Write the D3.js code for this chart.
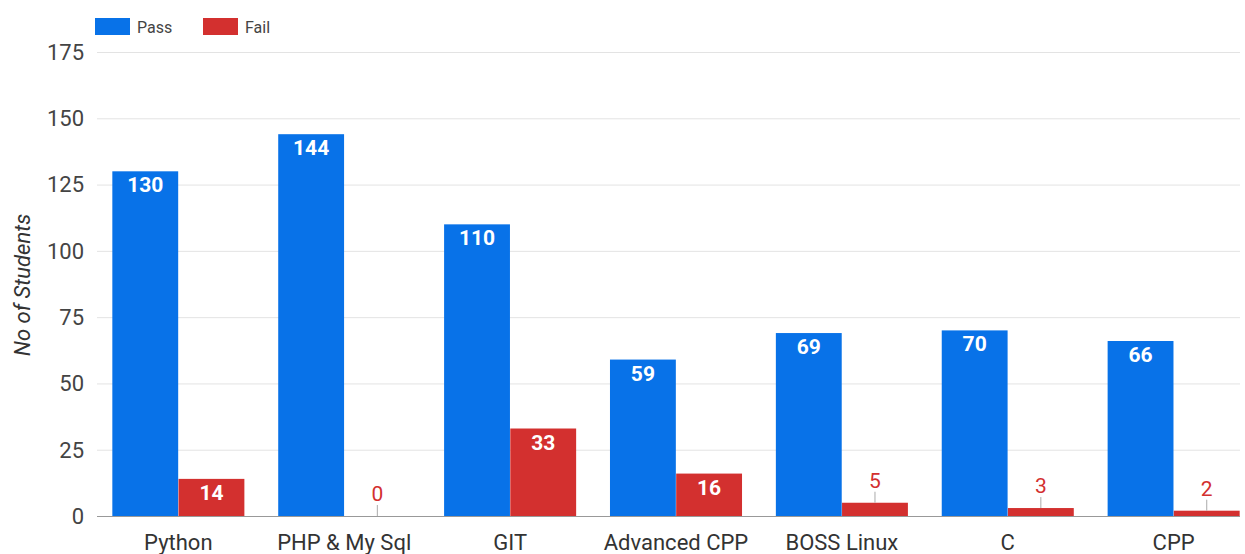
<!DOCTYPE html>
<html>
<head>
<meta charset="utf-8">
<script src="https://d3js.org/d3.v7.min.js"></script>
<style>
    body { margin: 0; background: #fff; font-family: Roboto, "Noto Sans", Arial, sans-serif; }
    .grid line { stroke: #e3e3e3; stroke-width: 1px; }
    .tick-label { font-size: 22px; fill: #444; }
    .cat-label { font-size: 22px; fill: #333; }
</style>
</head>
<body>
<script>
var width = 1245,
    height = 554;

// chart data
var categories = ["Python", "PHP & My Sql", "GIT", "Advanced CPP", "BOSS Linux", "C", "CPP"];
var passValues = [130, 144, 110, 59, 69, 70, 66];
var failValues = [14, 0, 33, 16, 5, 3, 2];
var seriesNames = ["Pass", "Fail"];
var yTicks = [0, 25, 50, 75, 100, 125, 150, 175];

var colors = { Pass: "#0872e8", Fail: "#d3302f" };

var svg = d3.select("body").append("svg")
    .attr("width", width)
    .attr("height", height);

var plotLeft = 97, plotRight = 1240, plotTop = 52, plotBottom = 516;

var y = d3.scaleLinear().domain([0, 175]).range([plotBottom, plotTop]);

var x0 = d3.scaleBand()
    .domain(categories)
    .range([112, 1240])
    .paddingInner(0.2)
    .paddingOuter(0);

var x1 = d3.scaleBand()
    .domain(seriesNames)
    .range([0, x0.bandwidth()])
    .padding(0.005);

// gridlines
var grid = svg.append("g").attr("class", "grid");
grid.selectAll("line")
    .data(yTicks.filter(function(d) { return d > 0; }))
    .enter().append("line")
    .attr("x1", plotLeft).attr("x2", plotRight)
    .attr("y1", function(d) { return y(d) + 0.5; })
    .attr("y2", function(d) { return y(d) + 0.5; });

// y tick labels
svg.selectAll("text.ytick")
    .data(yTicks)
    .enter().append("text")
    .attr("class", "tick-label")
    .attr("x", 84)
    .attr("y", function(d) { return y(d); })
    .attr("dy", "0.36em")
    .attr("text-anchor", "end")
    .text(function(d) { return d; });

// y axis title
svg.append("text")
    .attr("transform", "translate(30,285) rotate(-90)")
    .attr("text-anchor", "middle")
    .style("font-size", "22px")
    .style("font-style", "italic")
    .style("fill", "#333")
    .text("No of Students");

// bars
var rows = categories.map(function(c, i) {
    return { cat: c, values: [
        { key: "Pass", value: passValues[i] },
        { key: "Fail", value: failValues[i] }
    ]};
});

var groups = svg.selectAll("g.group")
    .data(rows)
    .enter().append("g")
    .attr("class", "group")
    .attr("transform", function(d) { return "translate(" + x0(d.cat) + ",0)"; });

groups.selectAll("rect")
    .data(function(d) { return d.values; })
    .enter().append("rect")
    .attr("x", function(d) { return x1(d.key); })
    .attr("width", x1.bandwidth())
    .attr("y", function(d) { return y(d.value); })
    .attr("height", function(d) { return plotBottom - y(d.value); })
    .style("fill", function(d) { return colors[d.key]; });

// value labels
groups.each(function() {
    var g = d3.select(this);
    g.selectAll("rect").each(function(d) {
        var cx = x1(d.key) + x1.bandwidth() / 2;
        var top = y(d.value);
        if (plotBottom - top > 25) {
            g.append("text")
                .attr("x", cx)
                .attr("y", top + 21)
                .attr("text-anchor", "middle")
                .style("font-size", "21px")
                .style("font-weight", "bold")
                .style("fill", "#fff")
                .text(d.value);
        } else {
            g.append("line")
                .attr("x1", cx).attr("x2", cx)
                .attr("y1", top - 11).attr("y2", top)
                .style("stroke", "#aaa")
                .style("stroke-width", 1);
            g.append("text")
                .attr("x", cx)
                .attr("y", top - 15)
                .attr("text-anchor", "middle")
                .style("font-size", "21px")
                .style("fill", colors[d.key])
                .text(d.value);
        }
    });
});

// baseline
svg.append("line")
    .attr("x1", plotLeft).attr("x2", plotRight)
    .attr("y1", plotBottom + 0.5).attr("y2", plotBottom + 0.5)
    .style("stroke", "#999");

// category labels
svg.selectAll("text.cat")
    .data(categories)
    .enter().append("text")
    .attr("class", "cat-label")
    .attr("x", function(d) { return x0(d) + x0.bandwidth() / 2; })
    .attr("y", 550)
    .attr("text-anchor", "middle")
    .text(function(d) { return d; });

// legend
var legend = svg.selectAll("g.legend")
    .data(seriesNames)
    .enter().append("g")
    .attr("class", "legend")
    .attr("transform", function(d, i) { return "translate(" + (95 + i * 108) + ",18)"; });

legend.append("rect")
    .attr("width", 35)
    .attr("height", 17)
    .style("fill", function(d) { return colors[d]; });

legend.append("text")
    .attr("x", 42)
    .attr("y", 9)
    .attr("dy", "0.35em")
    .style("font-size", "16px")
    .style("fill", "#444")
    .text(function(d) { return d; });
</script>
</body>
</html>
